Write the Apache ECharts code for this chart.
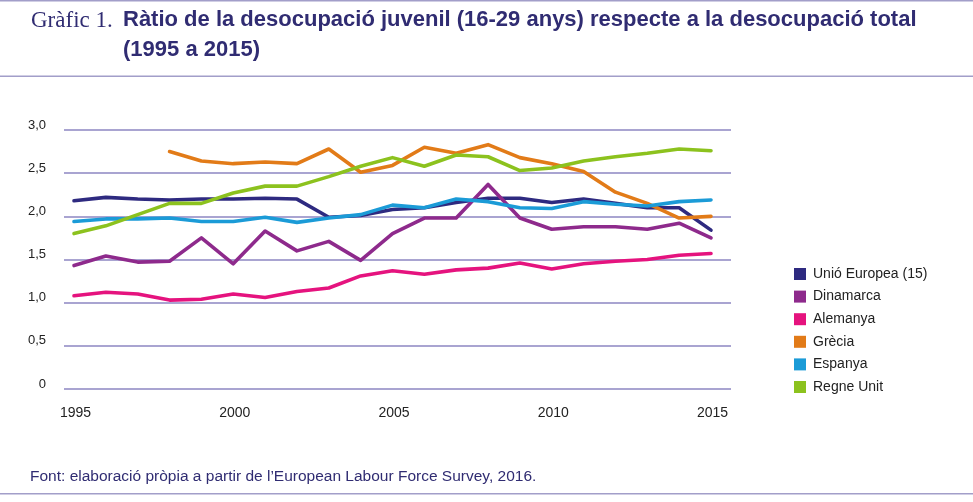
<!DOCTYPE html>
<html>
<head>
<meta charset="utf-8">
<script src="https://cdn.jsdelivr.net/npm/echarts@6/dist/echarts.min.js"></script>
<style>
  html, body { margin: 0; padding: 0; background: #fff; }
  #chart { width: 973px; height: 502px; }
</style>
</head>
<body>
<div id="chart"></div>
<script>
// anys
var years = [1995, 1996, 1997, 1998, 1999, 2000, 2001, 2002, 2003, 2004, 2005,
             2006, 2007, 2008, 2009, 2010, 2011, 2012, 2013, 2014, 2015];
var xTicks = [1995, 2000, 2005, 2010, 2015];

// ràtio per país
var ue15      = [2.18, 2.22, 2.20, 2.19, 2.20, 2.20, 2.21, 2.20, 1.99, 2.01, 2.08,
                 2.10, 2.16, 2.21, 2.21, 2.16, 2.20, 2.15, 2.10, 2.10, 1.84];
var dinamarca = [1.43, 1.54, 1.47, 1.48, 1.75, 1.45, 1.83, 1.60, 1.71, 1.49, 1.80,
                 1.98, 1.98, 2.37, 1.98, 1.85, 1.88, 1.88, 1.85, 1.92, 1.75];
var alemanya  = [1.08, 1.12, 1.10, 1.03, 1.04, 1.10, 1.06, 1.13, 1.17, 1.31, 1.37,
                 1.33, 1.38, 1.40, 1.46, 1.39, 1.45, 1.48, 1.50, 1.55, 1.57];
var grecia    = [null, null, null, 2.75, 2.64, 2.61, 2.63, 2.61, 2.78, 2.51, 2.59,
                 2.80, 2.73, 2.83, 2.68, 2.61, 2.52, 2.28, 2.15, 1.98, 2.00];
var espanya   = [1.94, 1.97, 1.97, 1.98, 1.94, 1.94, 1.99, 1.93, 1.98, 2.02, 2.13,
                 2.10, 2.20, 2.17, 2.10, 2.09, 2.17, 2.14, 2.12, 2.17, 2.19];
var regneUnit = [1.80, 1.89, 2.02, 2.15, 2.15, 2.27, 2.35, 2.35, 2.46, 2.58, 2.68,
                 2.58, 2.71, 2.69, 2.53, 2.56, 2.64, 2.69, 2.73, 2.78, 2.76];

var names  = ['Unió Europea (15)', 'Dinamarca', 'Alemanya', 'Grècia', 'Espanya', 'Regne Unit'];
var values = [ue15, dinamarca, alemanya, grecia, espanya, regneUnit];
var colors = ['#2e2a80', '#8e2a8c', '#e5137e', '#e27b18', '#1b9bd7', '#8cc21e'];

var navy = '#302c72';
var rule = '#a29ec9';

// parells [any, valor] per a l'eix de valors
function pairs(arr) {
  var out = [];
  for (var i = 0; i < years.length; i++) {
    out.push([years[i], arr[i]]);
  }
  return out;
}

var series = [];
for (var s = 0; s < names.length; s++) {
  series.push({
    name: names[s],
    type: 'line',
    data: pairs(values[s]),
    showSymbol: false,
    symbol: 'none',
    connectNulls: false,
    lineStyle: { width: 3.6, color: colors[s], cap: 'round', join: 'round' },
    itemStyle: { color: colors[s] },
    z: 3 + s
  });
}

var chart = echarts.init(document.getElementById('chart'));
chart.setOption({
  animation: false,
  backgroundColor: '#fff',
  textStyle: { fontFamily: 'Liberation Sans' },
  grid: { left: 64, right: 242, top: 130, bottom: 113, containLabel: false },
  xAxis: {
    type: 'value',
    min: 1995 - 10 / 31.85,
    max: 2015 + 20 / 31.85,
    splitLine: { show: false },
    axisLine: { show: false },
    axisTick: { show: false },
    axisLabel: {
      customValues: xTicks,
      margin: 17,
      fontSize: 14,
      color: '#222',
      padding: [0, 0, 0, 3],
      formatter: function(v) { return String(Math.round(v)); }
    }
  },
  yAxis: {
    type: 'value',
    min: 0,
    max: 3,
    interval: 0.5,
    axisLine: { show: false },
    axisTick: { show: false },
    splitLine: { lineStyle: { color: '#8c86c2', width: 1.5 } },
    axisLabel: {
      margin: 18,
      fontSize: 13,
      color: '#222',
      verticalAlign: 'bottom',
      lineHeight: 10,
      formatter: function(v) { return v === 0 ? '0' : v.toFixed(1).replace('.', ','); }
    }
  },
  legend: {
    orient: 'vertical',
    left: 789,
    top: 262,
    icon: 'rect',
    itemWidth: 12,
    itemHeight: 12,
    itemGap: 8.6,
    textStyle: { fontSize: 14, color: '#222', lineHeight: 14, fontFamily: 'Liberation Sans', padding: [0, 0, 0, 2] },
    data: names
  },
  graphic: [
    { type: 'rect', shape: { x: 0, y: 0, width: 973, height: 1.5 }, style: { fill: rule } },
    { type: 'text', left: 31, top: 9,
      style: { text: 'Gràfic 1.', fontFamily: 'Liberation Serif', fontSize: 23, fill: navy } },
    { type: 'text', left: 123, top: 9,
      style: { text: 'Ràtio de la desocupació juvenil (16-29 anys) respecte a la desocupació total',
               fontFamily: 'Liberation Sans', fontWeight: 'bold', fontSize: 22, fill: navy } },
    { type: 'text', left: 123, top: 39,
      style: { text: '(1995 a 2015)', fontFamily: 'Liberation Sans', fontWeight: 'bold', fontSize: 22, fill: navy } },
    { type: 'rect', shape: { x: 0, y: 75.5, width: 973, height: 1.5 }, style: { fill: rule } },
    { type: 'text', left: 30, top: 469,
      style: { text: 'Font: elaboració pròpia a partir de l\u2019European Labour Force Survey, 2016.',
               fontFamily: 'Liberation Sans', fontSize: 15.5, fill: navy } },
    { type: 'rect', shape: { x: 0, y: 493, width: 973, height: 1.5 }, style: { fill: rule } }
  ],
  series: series
});
</script>
</body>
</html>
